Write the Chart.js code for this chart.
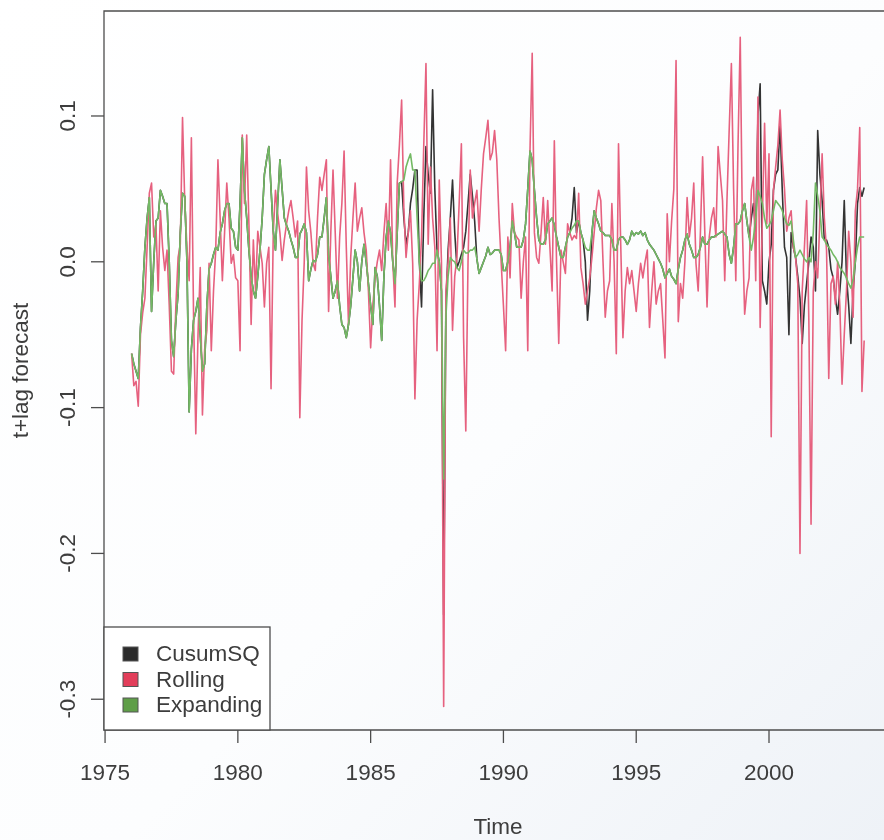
<!DOCTYPE html>
<html><head><meta charset="utf-8">
<script src="https://cdn.jsdelivr.net/npm/chart.js@4/dist/chart.umd.min.js"></script>
<style>html,body{margin:0;padding:0;background:#fff;}canvas{display:block;}</style>
</head><body>
<canvas id="c" width="884" height="840"></canvas>
<script>
// Monthly series starting Jan 1976
const startYear = 1976;
const perYear = 12;
const seriesNames = ["CusumSQ", "Rolling", "Expanding"];

const cusumSQ = [
 -0.063,-0.07,-0.075,-0.08,-0.045,-0.02,0.01,0.03,0.044,-0.034,0.0,0.028,
 0.03,0.049,0.045,0.04,0.04,0.0,-0.054,-0.065,-0.04,-0.022,0.02,0.047,
 0.045,0.0,-0.103,-0.06,-0.04,-0.034,-0.025,-0.05,-0.075,-0.07,-0.03,-0.005,
 -0.001,0.005,0.01,0.008,0.02,0.026,0.035,0.04,0.04,0.023,0.021,0.01,
 0.008,0.04,0.085,0.049,0.03,0.008,-0.01,-0.02,-0.025,-0.01,0.008,0.03,
 0.06,0.07,0.079,0.05,0.021,0.008,0.04,0.07,0.05,0.03,0.025,0.021,
 0.015,0.01,0.003,0.003,0.019,0.022,0.026,0.02,-0.013,-0.005,0.001,0.0,
 0.005,0.017,0.017,0.03,0.044,0.005,-0.01,-0.025,-0.02,-0.013,-0.03,-0.043,
 -0.045,-0.052,-0.043,-0.03,-0.011,0.008,0.0,-0.02,0.0,0.012,0.0,-0.015,
 -0.03,-0.043,-0.004,-0.01,-0.03,-0.054,-0.01,0.017,0.028,0.02,0.0,-0.015,
 0.02,0.054,0.055,0.03,0.012,0.02,0.04,0.05,0.063,0.063,0.0,-0.031,
 0.03,0.079,0.06,0.047,0.118,0.05,0.008,0.0,-0.02,-0.242,-0.03,0.008,
 0.03,0.056,0.02,-0.004,0.0,0.005,0.01,0.021,0.04,0.06,0.045,0.028,
 0.002,-0.008,-0.004,0.0,0.004,0.01,0.005,0.006,0.008,0.008,0.008,0.005,
 -0.006,-0.006,0.0,0.01,0.028,0.02,0.01,0.01,0.01,0.015,0.026,0.05,
 0.076,0.07,0.049,0.03,0.015,0.012,0.012,0.015,0.026,0.028,0.03,0.025,
 0.017,0.01,0.003,0.003,0.01,0.017,0.02,0.03,0.051,0.02,0.028,0.02,
 0.015,0.0,-0.04,-0.02,0.02,0.035,0.03,0.026,0.021,0.02,0.018,0.018,
 0.018,0.015,0.008,0.008,0.015,0.017,0.017,0.015,0.012,0.015,0.021,0.018,
 0.02,0.019,0.021,0.018,0.02,0.015,0.012,0.01,0.008,0.005,0.002,-0.001,
 -0.005,-0.011,-0.008,-0.005,-0.01,-0.012,-0.015,-0.005,0.003,0.008,0.015,0.019,
 0.012,0.008,0.003,0.003,0.005,0.01,0.017,0.012,0.012,0.015,0.017,0.017,
 0.018,0.019,0.02,0.021,0.019,0.017,0.005,-0.001,0.01,0.026,0.026,0.028,
 0.035,0.04,0.028,0.017,0.03,0.04,0.02,0.1,0.122,-0.013,-0.02,-0.029,
 0.0,0.012,0.049,0.06,0.063,0.095,0.049,0.01,0.003,-0.05,0.02,0.01,
 0.003,-0.01,-0.025,-0.056,-0.03,-0.015,0.0,0.017,0.01,-0.02,0.09,0.06,
 0.042,0.015,0.015,0.01,-0.005,-0.011,-0.025,-0.036,-0.02,0.0,0.042,-0.01,
 -0.03,-0.056,-0.02,0.0,0.04,0.051,0.045,0.051
];

const rolling = [
 -0.063,-0.085,-0.082,-0.099,-0.05,-0.035,-0.025,0.01,0.047,0.054,0.017,0.025,
 -0.02,0.035,0.01,-0.006,0.008,-0.03,-0.075,-0.077,-0.03,0.003,0.012,0.099,
 0.042,0.01,-0.013,0.085,-0.038,-0.118,-0.05,-0.004,-0.105,-0.06,-0.047,-0.001,
 -0.061,-0.02,0.008,0.07,0.03,-0.013,0.02,0.054,0.03,-0.001,0.005,-0.011,
 -0.013,-0.061,0.087,0.04,0.087,0.026,-0.043,0.015,-0.02,0.021,0.01,-0.001,
 -0.031,-0.001,0.01,-0.087,0.02,0.049,0.033,0.02,0.001,0.015,0.026,0.035,
 0.042,0.03,0.017,0.028,-0.107,-0.04,0.0,0.065,0.035,0.02,-0.001,-0.006,
 0.03,0.058,0.049,0.06,0.07,-0.034,0.02,0.063,0.02,-0.025,0.017,0.04,
 0.076,0.01,-0.043,0.003,0.03,0.054,0.021,0.03,0.037,0.02,0.008,-0.02,
 -0.059,-0.03,-0.011,0.0,0.008,-0.006,0.02,0.04,0.008,0.07,0.0,-0.031,
 0.054,0.08,0.111,0.037,0.003,0.02,0.035,-0.001,-0.094,-0.04,-0.015,0.017,
 0.08,0.136,0.012,0.065,0.03,0.01,-0.061,0.056,0.0,-0.305,-0.02,0.0,
 0.03,-0.047,-0.01,0.003,0.04,0.081,-0.052,-0.116,0.0,0.063,0.03,0.04,
 0.049,0.021,0.05,0.074,0.085,0.097,0.07,0.075,0.09,0.07,0.03,-0.001,
 -0.03,-0.061,0.017,-0.011,0.04,0.02,0.017,0.015,-0.025,0.0,0.017,-0.061,
 0.076,0.143,0.02,0.003,-0.001,0.02,0.044,0.012,0.042,0.01,-0.02,0.083,
 0.0,-0.056,0.008,0.0,-0.008,0.026,0.02,0.015,0.018,0.016,0.047,-0.004,
 -0.015,-0.029,-0.02,-0.011,0.003,0.02,0.037,0.049,0.042,0.0,-0.038,-0.02,
 -0.013,0.04,0.0,-0.063,0.081,0.012,-0.052,-0.02,-0.004,-0.015,-0.006,-0.02,
 -0.034,-0.015,-0.001,-0.011,0.0,0.008,-0.045,-0.02,0.0,-0.029,-0.02,-0.015,
 -0.04,-0.066,0.033,0.0,0.028,0.05,0.138,-0.041,-0.015,-0.025,0.0,0.044,
 0.017,0.03,0.054,-0.001,-0.02,0.02,0.072,0.02,-0.031,0.017,0.03,0.037,
 0.017,0.079,0.06,0.042,-0.013,0.042,0.09,0.136,0.05,-0.013,0.08,0.154,
 0.021,-0.036,-0.02,-0.011,0.049,0.058,-0.013,0.113,-0.045,0.03,0.095,0.026,
 0.074,-0.12,0.049,0.065,0.08,0.104,0.07,0.05,0.021,0.03,0.035,0.01,
 0.003,-0.015,-0.2,-0.02,0.01,0.042,-0.04,-0.18,-0.02,0.0,-0.011,0.03,
 0.074,0.03,0.008,-0.08,-0.015,-0.01,-0.029,0.0,-0.03,-0.084,-0.05,-0.02,
 0.021,0.0,-0.038,0.035,0.05,0.092,-0.089,-0.054
];

const expanding = [
 -0.063,-0.07,-0.075,-0.08,-0.045,-0.02,0.01,0.03,0.044,-0.034,0.0,0.028,
 0.03,0.049,0.045,0.04,0.04,0.0,-0.054,-0.065,-0.04,-0.022,0.02,0.047,
 0.045,0.0,-0.103,-0.06,-0.04,-0.034,-0.025,-0.05,-0.075,-0.07,-0.03,-0.005,
 -0.001,0.005,0.01,0.008,0.02,0.026,0.035,0.04,0.04,0.023,0.021,0.01,
 0.008,0.04,0.085,0.049,0.03,0.008,-0.01,-0.02,-0.025,-0.01,0.008,0.03,
 0.06,0.07,0.079,0.05,0.021,0.008,0.04,0.07,0.05,0.03,0.025,0.021,
 0.015,0.01,0.003,0.003,0.019,0.022,0.026,0.02,-0.013,-0.005,0.001,0.0,
 0.005,0.017,0.017,0.03,0.044,0.005,-0.01,-0.025,-0.02,-0.013,-0.03,-0.043,
 -0.045,-0.052,-0.043,-0.03,-0.011,0.008,0.0,-0.02,0.0,0.012,0.0,-0.015,
 -0.03,-0.043,-0.004,-0.01,-0.03,-0.054,-0.01,0.017,0.028,0.02,0.0,-0.015,
 0.02,0.054,0.055,0.056,0.065,0.07,0.074,0.063,0.063,0.03,0.0,-0.013,
 -0.013,-0.01,-0.006,-0.004,-0.001,-0.001,0.008,0.0,-0.02,-0.149,-0.038,-0.01,
 0.003,0.001,0.0,-0.004,-0.006,0.0,0.008,0.006,0.006,0.008,0.008,0.01,
 0.002,-0.008,-0.004,0.0,0.004,0.01,0.005,0.006,0.008,0.008,0.008,0.005,
 -0.006,-0.006,0.0,0.01,0.028,0.02,0.01,0.01,0.01,0.015,0.026,0.05,
 0.076,0.07,0.049,0.03,0.015,0.012,0.012,0.015,0.026,0.028,0.03,0.025,
 0.017,0.01,0.003,0.003,0.01,0.017,0.02,0.023,0.025,0.028,0.028,0.02,
 0.015,0.01,0.008,0.008,0.02,0.035,0.03,0.026,0.021,0.02,0.018,0.018,
 0.018,0.015,0.008,0.008,0.015,0.017,0.017,0.015,0.012,0.015,0.021,0.018,
 0.02,0.019,0.021,0.018,0.02,0.015,0.012,0.01,0.008,0.005,0.002,-0.001,
 -0.005,-0.011,-0.008,-0.005,-0.01,-0.012,-0.015,-0.005,0.003,0.008,0.015,0.019,
 0.012,0.008,0.003,0.003,0.005,0.01,0.017,0.012,0.012,0.015,0.017,0.017,
 0.018,0.019,0.02,0.021,0.019,0.017,0.005,-0.001,0.01,0.026,0.026,0.028,
 0.035,0.04,0.028,0.017,0.008,0.017,0.03,0.049,0.045,0.04,0.03,0.023,
 0.025,0.028,0.035,0.042,0.04,0.038,0.035,0.03,0.026,0.025,0.028,0.015,
 0.003,0.005,0.008,0.005,0.002,0.0,0.003,0.0,0.02,0.054,0.045,0.035,
 0.017,0.015,0.012,0.01,0.008,0.005,0.003,0.0,-0.004,-0.006,-0.008,-0.011,
 -0.015,-0.018,-0.012,0.0,0.01,0.017,0.017,0.017
];

const xTicks = [1975, 1980, 1985, 1990, 1995, 2000];
const yTicks = [0.1, 0.0, -0.1, -0.2, -0.3];
const yTickLabels = ["0.1", "0.0", "-0.1", "-0.2", "-0.3"];
const xTitle = "Time";
const yTitle = "t+lag forecast";

const lineColors = ["#333333", "#e6617f", "#73b964"];
const legendColors = ["#2b2b2b", "#e23e5a", "#5f9e48"];

const toPoints = arr => arr.map((v, i) => ({ x: startYear + i / perYear, y: v }));

const FONT = '22.5px "Liberation Sans", Arial, Helvetica, sans-serif';
const TEXT = '#3d3d3d';
const AXIS = '#4d4d4d';

const rStyle = {
  id: 'rStyle',
  beforeDraw(chart) {
    const { ctx, width, height } = chart;
    const g = ctx.createLinearGradient(0, 0, width, height);
    g.addColorStop(0, '#ffffff');
    g.addColorStop(0.55, '#fcfdfe');
    g.addColorStop(1, '#eef2f7');
    ctx.save();
    ctx.fillStyle = g;
    ctx.fillRect(0, 0, width, height);
    ctx.restore();
  },
  afterDraw(chart) {
    const { ctx, chartArea: a, scales } = chart;
    const x = scales.x, y = scales.y;
    ctx.save();
    ctx.strokeStyle = AXIS;
    ctx.lineWidth = 1.3;
    // plot box (right side lies beyond the canvas)
    ctx.beginPath();
    ctx.moveTo(a.right + 5, a.top);
    ctx.lineTo(a.left, a.top);
    ctx.lineTo(a.left, a.bottom);
    ctx.lineTo(a.right + 5, a.bottom);
    ctx.stroke();

    ctx.fillStyle = TEXT;
    ctx.font = FONT;
    ctx.textAlign = 'center';
    ctx.textBaseline = 'middle';

    // x axis
    xTicks.forEach(t => {
      const px = x.getPixelForValue(t);
      ctx.beginPath();
      ctx.moveTo(px, a.bottom);
      ctx.lineTo(px, a.bottom + 13);
      ctx.stroke();
      ctx.fillText(String(t), px, a.bottom + 44);
    });
    // y axis
    yTicks.forEach((t, k) => {
      const py = y.getPixelForValue(t);
      ctx.beginPath();
      ctx.moveTo(a.left, py);
      ctx.lineTo(a.left - 13, py);
      ctx.stroke();
      ctx.save();
      ctx.translate(69, py);
      ctx.rotate(-Math.PI / 2);
      ctx.fillText(yTickLabels[k], 0, 0);
      ctx.restore();
    });

    // titles
    ctx.fillText(xTitle, 498, 828);
    ctx.save();
    ctx.translate(22, (a.top + a.bottom) / 2);
    ctx.rotate(-Math.PI / 2);
    ctx.fillText(yTitle, 0, 0);
    ctx.restore();

    // legend box (bottom-left)
    const lx = a.left, ly = 627, lw = 166, lh = a.bottom - 627;
    ctx.fillStyle = '#ffffff';
    ctx.fillRect(lx, ly, lw, lh);
    ctx.strokeStyle = AXIS;
    ctx.strokeRect(lx, ly, lw, lh);
    ctx.textAlign = 'left';
    seriesNames.forEach((name, k) => {
      const cy = 654 + k * 25.5;
      ctx.fillStyle = legendColors[k];
      ctx.fillRect(123, cy - 7, 15, 14);
      ctx.strokeStyle = '#555';
      ctx.lineWidth = 1;
      ctx.strokeRect(123, cy - 7, 15, 14);
      ctx.fillStyle = TEXT;
      ctx.fillText(name, 156, cy + 1);
    });
    ctx.restore();
  }
};

new Chart(document.getElementById('c'), {
  type: 'line',
  data: {
    datasets: [
      { label: seriesNames[0], data: toPoints(cusumSQ), borderColor: lineColors[0], order: 2 },
      { label: seriesNames[1], data: toPoints(rolling), borderColor: lineColors[1], order: 1 },
      { label: seriesNames[2], data: toPoints(expanding), borderColor: lineColors[2], order: 0 }
    ]
  },
  options: {
    responsive: false,
    animation: false,
    devicePixelRatio: 1,
    elements: {
      line: { borderWidth: 1.6, tension: 0, borderJoinStyle: 'round', fill: false },
      point: { radius: 0, hoverRadius: 0 }
    },
    layout: { padding: { left: 104, top: 11, right: 0, bottom: 110 } },
    scales: {
      x: { type: 'linear', min: 1974.96, max: 2004.33, display: false },
      y: { type: 'linear', min: -0.3211, max: 0.172, display: false }
    },
    plugins: { legend: { display: false }, tooltip: { enabled: false } }
  },
  plugins: [rStyle]
});
</script>
</body></html>
